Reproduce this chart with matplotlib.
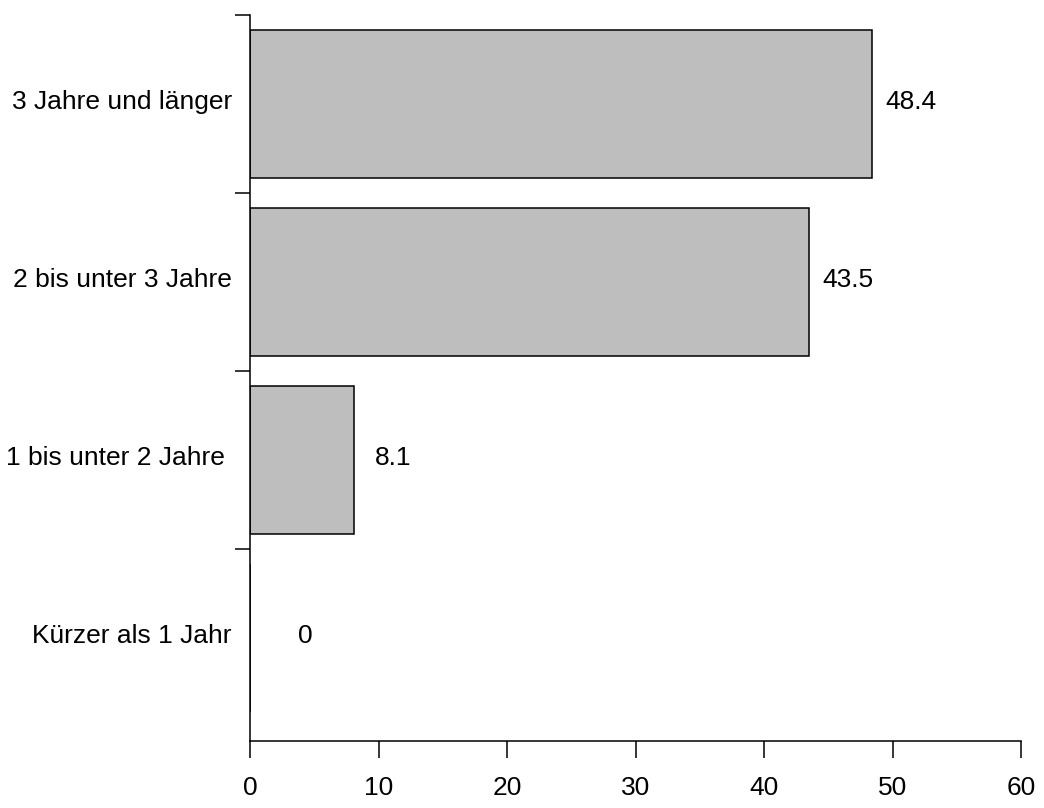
import matplotlib
matplotlib.use("Agg")
import matplotlib.pyplot as plt
import matplotlib.transforms as mtransforms
import numpy as np

categories = ["Kürzer als 1 Jahr", "1 bis unter 2 Jahre ", "2 bis unter 3 Jahre", "3 Jahre und länger"]
values = [0, 8.1, 43.5, 48.4]
value_labels = ["0", "8.1", "43.5", "48.4"]
x_ticks = [0, 10, 20, 30, 40, 50, 60]

plt.rcParams['font.family'] = ['Liberation Sans', 'DejaVu Sans']
FS = 19

fig = plt.figure(figsize=(10.44, 8.08), dpi=100)
ax = fig.add_axes([250/1044, (808-741)/808, (1021-250)/1044, (741-15)/808])

pos = np.arange(len(categories))
ax.barh(pos, values, height=148/178, color="#BEBEBE", edgecolor="black", linewidth=1.1)

up = mtransforms.ScaledTranslation(0, 1.5/72, fig.dpi_scale_trans)
for p, v, lab in zip(pos, values, value_labels):
    ax.text(max(v + 3.0, 4.3), p, lab, ha="center", va="center", fontsize=FS,
            transform=ax.transData + up)

# category labels, right-aligned left of the axis
lab_tr = mtransforms.blended_transform_factory(ax.transAxes, ax.transData) + \
    mtransforms.ScaledTranslation(-13/72, 1.5/72, fig.dpi_scale_trans)
for p, c in zip(pos, categories):
    ax.text(0, p, c, ha="right", va="center", fontsize=FS, transform=lab_tr)

ax.set_xlim(0, 60)
ax.set_ylim(-103/178, len(categories) - 0.5)

ax.set_xticks(x_ticks)
ax.set_xticklabels([str(t) for t in x_ticks])
ax.set_yticks(pos + 0.5)
ax.set_yticklabels([])

ax.tick_params(axis="x", which="major", direction="out", length=12, width=1.1, pad=13.5, labelsize=FS)
ax.tick_params(axis="y", which="major", direction="out", length=11, width=1.1)

for s in ["top", "right"]:
    ax.spines[s].set_visible(False)
for s in ["left", "bottom"]:
    ax.spines[s].set_linewidth(1.1)

fig.savefig("out.png", dpi=100)
